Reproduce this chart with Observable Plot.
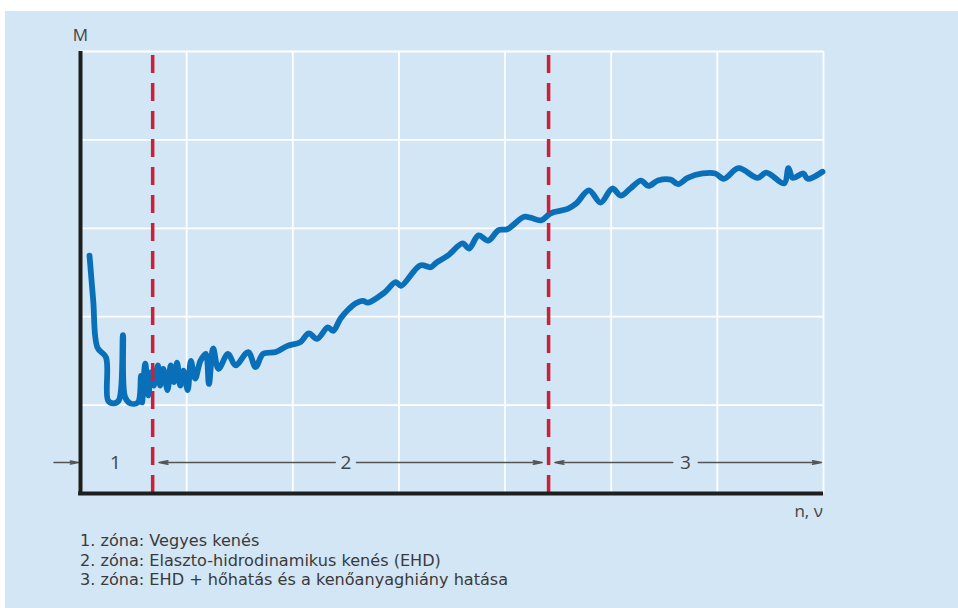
<!DOCTYPE html>
<html>
<head>
<meta charset="utf-8">
<script src="https://cdn.jsdelivr.net/npm/d3@7"></script>
<script src="https://cdn.jsdelivr.net/npm/@observablehq/plot@0.6"></script>
<style>
  html, body { margin: 0; padding: 0; background: #ffffff; }
  #panel { position: absolute; left: 5px; top: 11px; width: 953px; height: 597px; background: #d2e6f5; }
  #chart { position: absolute; left: 0; top: 0; }
  #caption { position: absolute; left: 75px; top: 520px; font-family: "DejaVu Sans", sans-serif; font-size: 16.1px; line-height: 19.7px; color: #3a3a3a; }
</style>
</head>
<body>
<div id="panel">
  <div id="chart"></div>
  <div id="caption"></div>
</div>
<script>
// Curve M as function of n, v (x in grid units 0..7, y in grid units 0..5)
const nv = [0.085,0.12,0.16,0.24,0.26,0.31,0.36,0.40,0.42,0.47,0.54,0.57,0.58,0.61,0.64,0.66,0.69,0.73,0.75,0.78,0.82,0.85,0.88,0.91,0.94,0.97,1.01,1.04,1.08,1.13,1.18,1.21,1.25,1.30,1.39,1.46,1.58,1.65,1.72,1.84,1.95,2.07,2.15,2.23,2.33,2.38,2.45,2.53,2.59,2.66,2.71,2.86,2.97,3.02,3.20,3.30,3.35,3.46,3.60,3.66,3.75,3.84,3.94,4.02,4.18,4.24,4.34,4.43,4.59,4.67,4.79,4.90,5.01,5.09,5.18,5.28,5.35,5.44,5.56,5.63,5.72,5.86,5.98,6.06,6.20,6.38,6.46,6.63,6.67,6.71,6.81,6.85,6.99];
const M  = [2.69,2.18,1.65,1.54,1.05,1.02,1.05,1.79,1.09,1.02,1.03,1.33,1.03,1.47,1.11,1.37,1.22,1.45,1.22,1.41,1.17,1.45,1.26,1.48,1.22,1.39,1.17,1.50,1.30,1.50,1.58,1.24,1.64,1.41,1.58,1.45,1.60,1.43,1.58,1.60,1.67,1.71,1.81,1.75,1.88,1.84,1.98,2.09,2.15,2.18,2.16,2.27,2.39,2.35,2.58,2.56,2.61,2.69,2.83,2.77,2.92,2.86,2.98,2.99,3.13,3.12,3.09,3.17,3.22,3.28,3.43,3.29,3.45,3.37,3.45,3.54,3.48,3.54,3.55,3.50,3.57,3.62,3.62,3.56,3.68,3.57,3.63,3.51,3.68,3.57,3.62,3.56,3.64];

const gridX = [1, 2, 3, 4, 5, 6, 7];
const gridY = [1, 2, 3, 4, 5];
const zoneBounds = [0.68, 4.41];
const zoneLabels = ["1", "2", "3"];
const zoneLabelX = [0.33, 2.5, 5.7];
const zoneRowY = 0.35;
const axisLabelY = "M";
const axisLabelX = "n, ν";
const captionLines = [
  "1. zóna: Vegyes kenés",
  "2. zóna: Elaszto-hidrodinamikus kenés (EHD)",
  "3. zóna: EHD + hőhatás és a kenőanyaghiány hatása"
];

const curve = nv.map((x, i) => ({x, y: M[i]}));

// zone arrows (built from zone bounds and label positions)
const gapL = 0.10, gapR = 0.10, pad = 0.06;
const arrows = [
  {x1: -0.25, x2: -0.02},                                  // zone 1: points to axis
  {x1: zoneLabelX[1] - gapL, x2: zoneBounds[0] + pad},      // zone 2 left
  {x1: zoneLabelX[1] + gapR, x2: zoneBounds[1] - pad},      // zone 2 right
  {x1: zoneLabelX[2] - gapL - 0.02, x2: zoneBounds[1] + pad},// zone 3 left
  {x1: zoneLabelX[2] + gapR + 0.02, x2: 6.98}               // zone 3 right
];

const chart = Plot.plot({
  width: 953,
  height: 520,
  marginLeft: 75,
  marginRight: 135,
  marginTop: 40,
  marginBottom: 38,
  x: {domain: [0, 7], axis: null},
  y: {domain: [0, 5], axis: null},
  style: {background: "transparent", overflow: "visible", fontFamily: "Open Sans, sans-serif"},
  marks: [
    Plot.ruleX(gridX, {stroke: "#ffffff", strokeWidth: 1.8}),
    Plot.ruleY(gridY, {stroke: "#ffffff", strokeWidth: 1.8}),
    Plot.line(curve, {x: "x", y: "y", curve: "catmull-rom", stroke: "#0a6fb9", strokeWidth: 5.8, strokeLinejoin: "round", strokeLinecap: "round"}),
    Plot.ruleX(zoneBounds, {y1: 0, y2: 5, stroke: "#cc1f3a", strokeWidth: 3.5, strokeDasharray: "18,10"}),
    Plot.arrow(arrows, {x1: "x1", x2: "x2", y1: zoneRowY, y2: zoneRowY, stroke: "#555", strokeWidth: 1.5, headLength: 9, headAngle: 22}),
    Plot.text(zoneLabels, {x: (d, i) => zoneLabelX[i], y: zoneRowY, text: d => d, fontSize: 19, fill: "#444"}),
    Plot.ruleX([0], {y1: 0, y2: 5, stroke: "#1e1e1e", strokeWidth: 4}),
    Plot.ruleY([0], {x1: -0.018, x2: 7, stroke: "#1e1e1e", strokeWidth: 4}),
    Plot.text([axisLabelY], {x: 0, y: 5, dy: -16, text: d => d, fontSize: 17, fill: "#444"}),
    Plot.text([axisLabelX], {x: 6.86, y: 0, dy: 18, text: d => d, fontSize: 17, fill: "#444"})
  ]
});
document.getElementById("chart").appendChild(chart);
const cap = document.getElementById("caption");
captionLines.forEach(t => { const d = document.createElement("div"); d.textContent = t; cap.appendChild(d); });
</script>
</body>
</html>
